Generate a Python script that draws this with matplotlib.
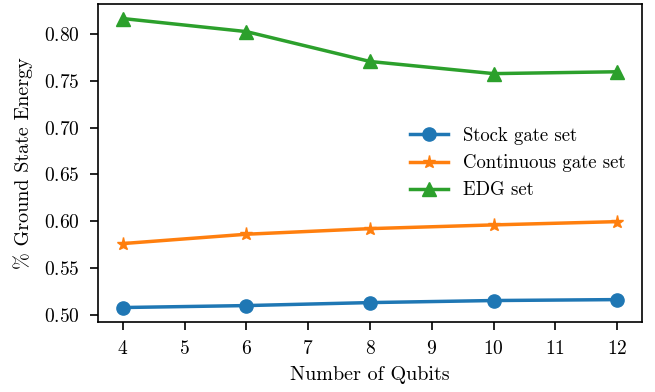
import matplotlib
matplotlib.use('Agg')
import matplotlib.pyplot as plt

plt.rcParams['font.family'] = 'serif'
plt.rcParams['font.serif'] = ['cmr10']
plt.rcParams['mathtext.fontset'] = 'cm'
plt.rcParams['axes.formatter.use_mathtext'] = True

qubits = [4, 6, 8, 10, 12]
stock = [0.5075, 0.5096, 0.5128, 0.515, 0.516]
continuous = [0.576, 0.586, 0.592, 0.596, 0.5995]
edg = [0.817, 0.803, 0.771, 0.758, 0.760]

fig = plt.figure(figsize=(6.55, 3.92), dpi=100)
ax = fig.add_axes([0.1496, 0.1786, 0.8305, 0.811])

ax.plot(qubits, stock, marker='o', markersize=9.5, linewidth=2.5, label='Stock gate set')
ax.plot(qubits, continuous, marker='*', markersize=9.5, linewidth=2.5, label='Continuous gate set')
ax.plot(qubits, edg, marker='^', markersize=9.5, linewidth=2.5, label='EDG set')

ax.set_xlabel('Number of Qubits', fontsize=14.5, labelpad=6)
ax.set_ylabel('% Ground State Energy', fontsize=14.5, labelpad=8)
ax.tick_params(labelsize=14, length=6, width=1.2, pad=7)
for s in ax.spines.values():
    s.set_linewidth(1.2)
ax.legend(loc='center right', frameon=False, fontsize=13.5)

fig.savefig('out.png', dpi=100)
